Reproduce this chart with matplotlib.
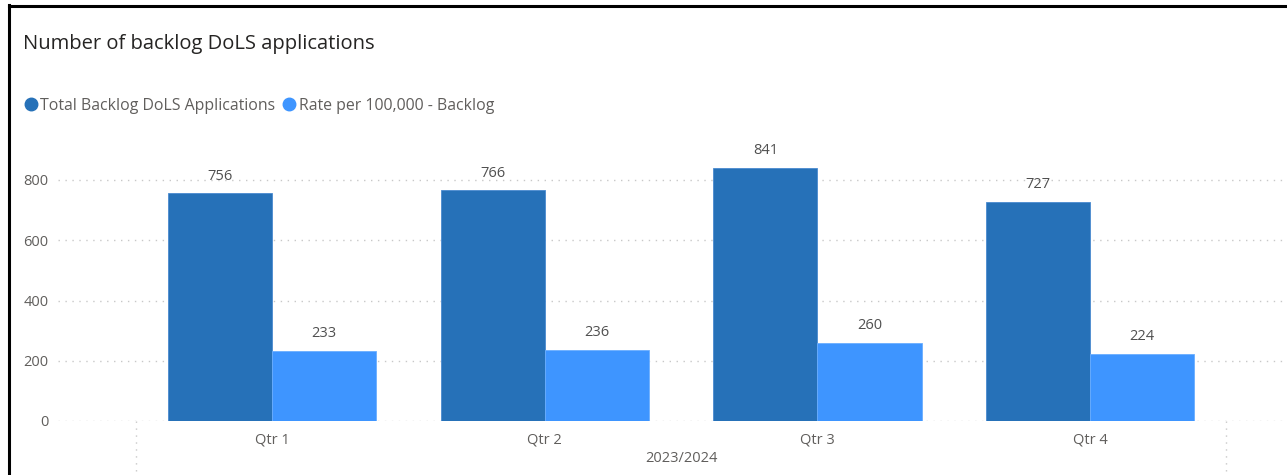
import matplotlib
matplotlib.use("Agg")
import matplotlib.pyplot as plt
from matplotlib.lines import Line2D
import numpy as np

categories = ["Qtr 1", "Qtr 2", "Qtr 3", "Qtr 4"]
group_label = "2023/2024"
total_backlog = [756, 766, 841, 727]
rate_per_100k = [233, 236, 260, 224]
series_names = ["Total Backlog DoLS Applications", "Rate per 100,000 - Backlog"]
yticks = [0, 200, 400, 600, 800]

plt.rcParams['font.family'] = ['Open Sans', 'DejaVu Sans']

W, H = 1287, 475
fig = plt.figure(figsize=(W / 100, H / 100), dpi=100)

dark = "#2671B8"
light = "#3E95FF"
tick_col = "#605E5C"
lab_col = "#505050"

# axes: left 58px, right edge, bottom y=421px, top y=140px
ax = fig.add_axes([58 / W, (H - 421) / H, 1 - 58 / W, (421 - 140) / H])
ax.set_xlim(-0.785, 3.722)
ax.set_ylim(0, (421 - 140) / (241 / 800))

x = np.arange(len(categories))
bw = 0.382
b1 = ax.bar(x - bw / 2, total_backlog, bw, color=dark, edgecolor="#4A8AD0", linewidth=0.6, zorder=3)
b2 = ax.bar(x + bw / 2, rate_per_100k, bw, color=light, edgecolor="#6AAEFF", linewidth=0.6, zorder=3)

for rects, vals in ((b1, total_backlog), (b2, rate_per_100k)):
    for r, v in zip(rects, vals):
        ax.text(r.get_x() + r.get_width() / 2, v + 32, str(v), ha="center", va="bottom",
                fontsize=10.5, color=lab_col, zorder=4)

for s in ax.spines.values():
    s.set_visible(False)
ax.set_yticks(yticks)
ax.set_yticklabels([str(t) for t in yticks], fontsize=10.5, color=tick_col)
ax.tick_params(axis="y", length=0, pad=7)
ax.set_xticks(x)
ax.set_xticklabels(categories, fontsize=10.5, color=tick_col)
ax.tick_params(axis="x", length=0, pad=8)
ax.yaxis.grid(True, linestyle=(0, (1, 4)), color="#C8C8C8", linewidth=1.0, zorder=0)
ax.set_axisbelow(True)

# group boundaries
for bx in (-0.5, 3.5):
    ax.plot([bx, bx], [0, -0.2], transform=ax.get_xaxis_transform(), clip_on=False,
            linestyle=(0, (1, 4)), color="#C8C8C8", linewidth=1.0)
ax.text(1.5, -0.135, group_label, transform=ax.get_xaxis_transform(), ha="center", va="center",
        fontsize=10.5, color=tick_col)

# title
fig.text(23 / W, 1 - 44 / H, "Number of backlog DoLS applications", fontsize=14.5,
         color="#252423", va="center", ha="left")

# legend
handles = [Line2D([0], [0], marker="o", linestyle="", markersize=9, markerfacecolor=c,
                  markeredgecolor=c) for c in (dark, light)]
fig.legend(handles, series_names, loc="center left", bbox_to_anchor=(21 / W, 1 - 106 / H),
           frameon=False, ncol=2, fontsize=11.4, labelcolor="#605E5C", handletextpad=0.0,
           columnspacing=0.3, handlelength=1.2, borderaxespad=0, borderpad=0)

# frame border
fig.add_artist(Line2D([9 / W, 9 / W], [0, 1 - 5 / H], transform=fig.transFigure, color="black", linewidth=2.2))
fig.add_artist(Line2D([9 / W, 1], [1 - 6 / H, 1 - 6 / H], transform=fig.transFigure, color="black", linewidth=2.2))

fig.savefig("out.png", dpi=100)
